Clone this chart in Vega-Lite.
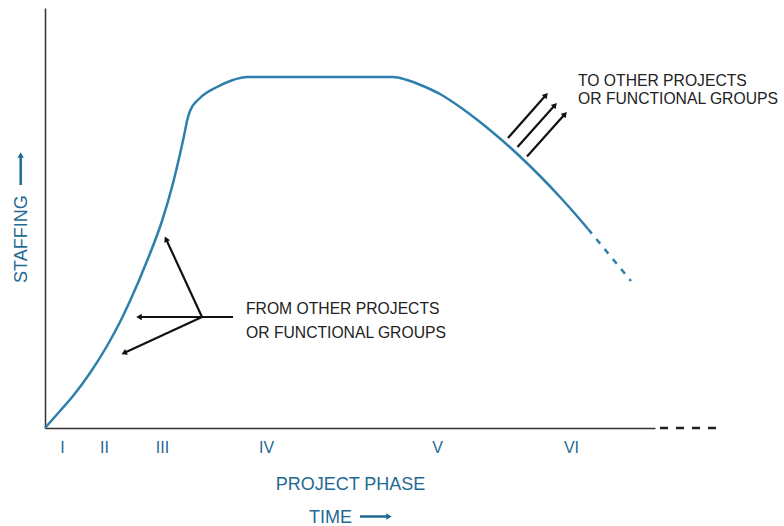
{
  "$schema": "https://vega.github.io/schema/vega-lite/v6.json",
  "width": 610,
  "height": 420,
  "autosize": {"type": "none"},
  "padding": {"left": 45, "top": 8, "right": 129, "bottom": 98},
  "background": "white",
  "config": {"view": {"stroke": null}, "font": "Liberation Sans"},
  "datasets": {
    "curve": [
      {"t": 0, "s": 0}, {"t": 15, "s": 17}, {"t": 28, "s": 32}, {"t": 45, "s": 55},
      {"t": 62, "s": 82}, {"t": 75, "s": 106}, {"t": 85, "s": 127}, {"t": 102, "s": 167},
      {"t": 117, "s": 207}, {"t": 127, "s": 241}, {"t": 135, "s": 274}, {"t": 140, "s": 297},
      {"t": 142, "s": 307}, {"t": 145, "s": 317}, {"t": 155, "s": 330}, {"t": 172, "s": 341},
      {"t": 188, "s": 348}, {"t": 202, "s": 351}, {"t": 348, "s": 351}, {"t": 362, "s": 348},
      {"t": 378, "s": 342}, {"t": 395, "s": 334}, {"t": 415, "s": 321}, {"t": 435, "s": 306},
      {"t": 455, "s": 289.5}, {"t": 475, "s": 271.5}, {"t": 495, "s": 252}, {"t": 515, "s": 231},
      {"t": 535, "s": 208.5}, {"t": 543, "s": 199}
    ],
    "tail": [{"t": 543, "s": 199}, {"t": 586, "s": 147}],
    "arrows": [
      {"t": 157, "s": 111, "t2": 121, "s2": 189},
      {"t": 188, "s": 111, "t2": 94, "s2": 111},
      {"t": 157, "s": 111, "t2": 79, "s2": 75},
      {"t": 463, "s": 290, "t2": 501, "s2": 333},
      {"t": 472.5, "s": 281, "t2": 510, "s2": 323},
      {"t": 482, "s": 271.5, "t2": 520, "s2": 314}
    ],
    "titlearrows": [
      {"t": -24.3, "s": 243, "t2": -24.3, "s2": 273},
      {"t": 315, "s": -88.5, "t2": 344, "s2": -88.5}
    ],
    "notes": [
      {"t": 533, "s": 342, "text": "TO OTHER PROJECTS"},
      {"t": 533, "s": 324, "text": "OR FUNCTIONAL GROUPS"},
      {"t": 201, "s": 114, "text": "FROM OTHER PROJECTS"},
      {"t": 201, "s": 90, "text": "OR FUNCTIONAL GROUPS"}
    ],
    "ext": [{"t": 615, "t2": 672, "s": 0}]
  },
  "layer": [
    {
      "data": {"name": "curve"},
      "mark": {"type": "line", "color": "#2e7fab", "strokeWidth": 2.5, "interpolate": "monotone"},
      "encoding": {
        "x": {
          "field": "t", "type": "quantitative",
          "scale": {"domain": [0, 610], "nice": false, "zero": false},
          "axis": {
            "values": [17, 59, 117, 221, 392, 526],
            "labelExpr": "datum.value == 17 ? 'I' : datum.value == 59 ? 'II' : datum.value == 117 ? 'III' : datum.value == 221 ? 'IV' : datum.value == 392 ? 'V' : 'VI'",
            "ticks": false, "grid": false,
            "domainColor": "#333", "domainWidth": 1.5,
            "labelFontSize": 16, "labelColor": "#1f6a94", "labelPadding": 11,
            "labelFont": "Liberation Sans",
            "title": "PROJECT PHASE",
            "titleFontSize": 18, "titleFontWeight": "normal", "titleColor": "#1f6a94",
            "titleFont": "Liberation Sans",
            "titlePadding": 20
          }
        },
        "y": {
          "field": "s", "type": "quantitative",
          "scale": {"domain": [0, 420], "nice": false, "zero": false},
          "axis": {
            "labels": false, "ticks": false, "grid": false,
            "domainColor": "#333", "domainWidth": 1.5,
            "title": null
          }
        }
      }
    },
    {
      "data": {"name": "tail"},
      "mark": {"type": "line", "color": "#2e7fab", "strokeWidth": 2.5, "strokeDash": [6, 7]},
      "encoding": {"x": {"field": "t", "type": "quantitative"}, "y": {"field": "s", "type": "quantitative"}}
    },
    {
      "data": {"name": "ext"},
      "mark": {"type": "rule", "color": "#222", "strokeWidth": 2.5, "strokeDash": [8, 8], "clip": false},
      "encoding": {"x": {"field": "t", "type": "quantitative"}, "x2": {"field": "t2"}, "y": {"field": "s", "type": "quantitative"}}
    },
    {
      "data": {"name": "arrows"},
      "mark": {"type": "rule", "color": "#111", "strokeWidth": 2.2},
      "encoding": {
        "x": {"field": "t", "type": "quantitative"}, "y": {"field": "s", "type": "quantitative"},
        "x2": {"field": "t2"}, "y2": {"field": "s2"}
      }
    },
    {
      "data": {"name": "arrows"},
      "transform": [{"calculate": "atan2(datum.t2 - datum.t, datum.s2 - datum.s) * 180 / PI", "as": "ang"}],
      "mark": {"type": "point", "shape": "triangle-up", "filled": true, "color": "#111", "size": 40, "opacity": 1},
      "encoding": {
        "x": {"field": "t2", "type": "quantitative"}, "y": {"field": "s2", "type": "quantitative"},
        "angle": {"field": "ang", "type": "quantitative", "scale": null}
      }
    },
    {
      "data": {"name": "titlearrows"},
      "mark": {"type": "rule", "color": "#1f6a94", "strokeWidth": 2.5, "clip": false},
      "encoding": {
        "x": {"field": "t", "type": "quantitative"}, "y": {"field": "s", "type": "quantitative"},
        "x2": {"field": "t2"}, "y2": {"field": "s2"}
      }
    },
    {
      "data": {"name": "titlearrows"},
      "transform": [{"calculate": "atan2(datum.t2 - datum.t, datum.s2 - datum.s) * 180 / PI", "as": "ang"}],
      "mark": {"type": "point", "shape": "triangle-up", "filled": true, "color": "#1f6a94", "size": 40, "opacity": 1, "clip": false},
      "encoding": {
        "x": {"field": "t2", "type": "quantitative"}, "y": {"field": "s2", "type": "quantitative"},
        "angle": {"field": "ang", "type": "quantitative", "scale": null}
      }
    },
    {
      "data": {"values": [{"t": -18.5, "s": 145, "text": "STAFFING"}]},
      "mark": {"type": "text", "align": "left", "baseline": "alphabetic", "angle": 270, "fontSize": 18, "color": "#1f6a94", "font": "Liberation Sans", "clip": false},
      "encoding": {
        "x": {"field": "t", "type": "quantitative"}, "y": {"field": "s", "type": "quantitative"},
        "text": {"field": "text"}
      }
    },
    {
      "data": {"values": [{"t": 264, "s": -94.5, "text": "TIME"}]},
      "mark": {"type": "text", "align": "left", "baseline": "alphabetic", "fontSize": 18, "color": "#1f6a94", "font": "Liberation Sans", "clip": false},
      "encoding": {
        "x": {"field": "t", "type": "quantitative"}, "y": {"field": "s", "type": "quantitative"},
        "text": {"field": "text"}
      }
    },
    {
      "data": {"name": "notes"},
      "mark": {"type": "text", "align": "left", "baseline": "alphabetic", "fontSize": 15.7, "color": "#222", "font": "Liberation Sans"},
      "encoding": {
        "x": {"field": "t", "type": "quantitative"}, "y": {"field": "s", "type": "quantitative"},
        "text": {"field": "text"}
      }
    }
  ]
}
